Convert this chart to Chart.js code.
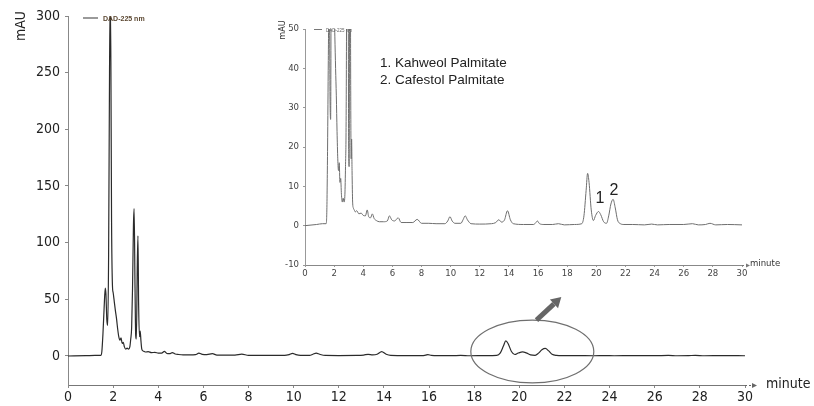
<!DOCTYPE html>
<html>
<head>
<meta charset="utf-8">
<script src="https://cdn.jsdelivr.net/npm/chart.js@4.4.1/dist/chart.umd.min.js"></script>
<style>
  body { margin: 0; background: #fff; }
  #wrap { position: relative; width: 814px; height: 406px; overflow: hidden; }
  canvas { position: absolute; }
  .lbl { position: absolute; white-space: nowrap; transform: translate(0, -50%); line-height: 1; }
  .mid { transform: translate(-50%, -50%); }
  .rot { transform: translate(-50%, -50%) rotate(-90deg); }
</style>
</head>
<body>
<div id="wrap">
  <canvas id="mainChart" width="814" height="406" style="left:0;top:0"></canvas>
  <canvas id="insetChart" width="545" height="275" style="left:250px;top:10px"></canvas>

  <div class="lbl rot" style="left:20px;top:26px;font:14px 'DejaVu Sans Condensed';color:#222">mAU</div>
  <div class="lbl" style="left:766px;top:383px;font:14px 'DejaVu Sans Condensed';color:#222">minute</div>
  <div style="position:absolute;left:83px;top:17px;width:15px;height:2px;background:#9a9a9a"></div>
  <div class="lbl" style="left:103px;top:18px;font:bold 7px 'Liberation Sans';color:#5a4630">DAD-225 nm</div>

  <div class="lbl rot" style="left:282px;top:30px;font:9px 'DejaVu Sans Condensed';color:#333">mAU</div>
  <div class="lbl" style="left:750px;top:262px;font:9.5px 'DejaVu Sans Condensed';color:#333">minute</div>
  <div style="position:absolute;left:314px;top:29px;width:8px;height:1px;background:#777"></div>
  <div class="lbl" style="left:326px;top:30px;font:4.5px 'Liberation Sans';color:#666">DAD-225 nm</div>

  <div class="lbl" style="left:380px;top:62px;font:13.5px 'Liberation Sans';color:#222">1. Kahweol Palmitate</div>
  <div class="lbl" style="left:380px;top:79px;font:13.5px 'Liberation Sans';color:#222">2. Cafestol Palmitate</div>
  <div class="lbl mid" style="left:600px;top:198px;font:16px 'Liberation Sans';color:#222">1</div>
  <div class="lbl mid" style="left:614px;top:190px;font:16px 'Liberation Sans';color:#222">2</div>
</div>
<script>
// retention time (minute) and absorbance (mAU)
const minutes = [
  0, 0.8, 1.2, 1.45, 1.5, 1.55, 1.6, 1.65, 1.68, 1.72,
  1.76, 1.8, 1.84, 1.87, 1.9, 1.93, 1.97, 2.0, 2.05, 2.1,
  2.15, 2.2, 2.25, 2.3, 2.35, 2.4, 2.45, 2.5, 2.56, 2.62,
  2.68, 2.74, 2.78, 2.82, 2.86, 2.9, 2.93, 2.97, 3.0, 3.03,
  3.07, 3.1, 3.13, 3.17, 3.2, 3.23, 3.27, 3.32, 3.38, 3.45,
  3.55, 3.7, 3.85, 4.0, 4.15, 4.27, 4.38, 4.5, 4.62, 4.75,
  4.9, 5.1, 5.4, 5.65, 5.8, 5.95, 6.15, 6.4, 6.6, 7.0,
  7.4, 7.7, 8.0, 8.5, 9.0, 9.6, 9.8, 9.95, 10.1, 10.3,
  10.7, 10.85, 11.0, 11.15, 11.4, 12.0, 12.8, 13.1, 13.3, 13.5,
  13.7, 13.9, 14.1, 14.3, 15.0, 15.7, 15.85, 15.95, 16.1, 16.4,
  17.0, 17.4, 17.8, 18.5, 19.0, 19.15, 19.3, 19.4, 19.5, 19.65,
  19.8, 19.95, 20.15, 20.3, 20.5, 20.7, 20.85, 21.0, 21.15, 21.3,
  21.45, 21.65, 21.9, 22.5, 23.3, 23.8, 24.2, 25.0, 26.0, 26.6,
  27.0, 27.5, 27.8, 28.2, 29.0, 30
];
const mAU = [
  0, 0.3, 0.5, 0.5, 4, 20, 42, 60, 55, 32,
  27, 90, 250, 315, 260, 120, 62, 56, 48, 40,
  33, 24, 17, 14, 16, 11, 12, 8, 6, 7,
  6, 8, 15, 25, 60, 115, 130, 60, 18, 15,
  80, 106, 45, 17, 22, 14, 6, 4.5, 4, 3.5,
  3.8, 3, 3.2, 2.6, 2.5, 4, 2.2, 2, 3, 1.8,
  1.3, 1, 1, 1.2, 2.5, 1.5, 1.2, 2, 0.8, 0.8,
  0.8, 1.6, 0.6, 0.6, 0.5, 0.5, 1.2, 2.3, 1.2, 0.6,
  0.6, 1.5, 2.5, 1.5, 0.5, 0.4, 0.5, 0.8, 1.5, 0.9,
  1.5, 3.8, 1.5, 0.5, 0.3, 0.3, 0.8, 1.2, 0.5, 0.3,
  0.3, 0.5, 0.2, 0.3, 0.5, 2.5, 9, 13.3, 11, 4,
  1.3, 2.6, 3.6, 2.8, 1, 0.6, 2.5, 5.5, 6.7, 4.5,
  1.5, 0.5, 0.3, 0.3, 0.2, 0.4, 0.2, 0.3, 0.3, 0.5,
  0.2, 0.3, 0.6, 0.2, 0.3, 0.2
];

const mainXTicks = [0, 2, 4, 6, 8, 10, 12, 14, 16, 18, 20, 22, 24, 26, 28, 30];
const mainYTicks = [0, 50, 100, 150, 200, 250, 300];
const insetXTicks = [0, 2, 4, 6, 8, 10, 12, 14, 16, 18, 20, 22, 24, 26, 28, 30];
const insetYTicks = [-10, 0, 10, 20, 30, 40, 50];

const points = minutes.map((t, i) => ({ x: t, y: mAU[i] }));

// ellipse around the palmitate region and the pointer arrow (data coords)
const circleBox = { x0: 17.85, x1: 23.3, y0: -23.8, y1: 31.7 };
const pointer = { x0: 20.76, y0: 31.7, x1: 21.86, y1: 52 };

function axisArrow(ctx, area, len, head, color) {
  ctx.save();
  ctx.strokeStyle = color;
  ctx.fillStyle = color;
  ctx.setLineDash([2, 2]);
  ctx.beginPath();
  ctx.moveTo(area.right, area.bottom + 0.5);
  ctx.lineTo(area.right + len, area.bottom + 0.5);
  ctx.stroke();
  ctx.setLineDash([]);
  ctx.beginPath();
  ctx.moveTo(area.right + len + head, area.bottom + 0.5);
  ctx.lineTo(area.right + len, area.bottom + 0.5 - head / 2);
  ctx.lineTo(area.right + len, area.bottom + 0.5 + head / 2);
  ctx.closePath();
  ctx.fill();
  ctx.restore();
}

const mainDecor = {
  id: 'mainDecor',
  afterDraw(chart) {
    const { ctx, chartArea, scales: { x, y } } = chart;
    axisArrow(ctx, chartArea, 7, 5, '#666');

    ctx.save();
    const cx = x.getPixelForValue((circleBox.x0 + circleBox.x1) / 2);
    const cy = y.getPixelForValue((circleBox.y0 + circleBox.y1) / 2);
    const rx = (x.getPixelForValue(circleBox.x1) - x.getPixelForValue(circleBox.x0)) / 2;
    const ry = (y.getPixelForValue(circleBox.y0) - y.getPixelForValue(circleBox.y1)) / 2;
    ctx.strokeStyle = '#6f6f6f';
    ctx.lineWidth = 1.2;
    ctx.beginPath();
    ctx.ellipse(cx, cy, rx, ry, 0, 0, Math.PI * 2);
    ctx.stroke();

    // thick pointer arrow
    const ax = x.getPixelForValue(pointer.x0), ay = y.getPixelForValue(pointer.y0);
    const bx = x.getPixelForValue(pointer.x1), by = y.getPixelForValue(pointer.y1);
    const ang = Math.atan2(by - ay, bx - ax);
    const hl = 10;
    ctx.strokeStyle = '#666';
    ctx.fillStyle = '#666';
    ctx.lineWidth = 5;
    ctx.beginPath();
    ctx.moveTo(ax, ay);
    ctx.lineTo(bx - hl * Math.cos(ang), by - hl * Math.sin(ang));
    ctx.stroke();
    ctx.beginPath();
    ctx.moveTo(bx, by);
    ctx.lineTo(bx - hl * Math.cos(ang) + 6 * Math.sin(ang), by - hl * Math.sin(ang) - 6 * Math.cos(ang));
    ctx.lineTo(bx - hl * Math.cos(ang) - 6 * Math.sin(ang), by - hl * Math.sin(ang) + 6 * Math.cos(ang));
    ctx.closePath();
    ctx.fill();
    ctx.restore();
  }
};

const insetDecor = {
  id: 'insetDecor',
  afterDraw(chart) {
    axisArrow(chart.ctx, chart.chartArea, 4, 4, '#777');
  }
};

const mainChart = new Chart(document.getElementById('mainChart').getContext('2d'), {
  type: 'line',
  data: {
    datasets: [{
      label: 'DAD-225 nm',
      data: points,
      borderColor: '#2b2b2b',
      borderWidth: 1.2,
      pointRadius: 0,
      cubicInterpolationMode: 'monotone',
      fill: false
    }]
  },
  options: {
    responsive: false,
    animation: false,
    layout: { padding: { left: 0, right: 69, top: 16, bottom: 0 } },
    plugins: { legend: { display: false }, tooltip: { enabled: false } },
    scales: {
      x: {
        type: 'linear',
        min: 0,
        max: 30,
        afterFit: s => { s.height = 21; },
        afterBuildTicks: s => { s.ticks = mainXTicks.map(v => ({ value: v })); },
        ticks: { color: '#222', font: { family: 'DejaVu Sans Condensed', size: 14 }, padding: 1, maxRotation: 0, autoSkip: false },
        grid: { drawOnChartArea: false, tickLength: 3, color: '#888' },
        border: { color: '#777', dash: [2, 2] }
      },
      y: {
        min: -25.6,
        max: 300,
        afterFit: s => { s.width = 68; },
        afterBuildTicks: s => { s.ticks = mainYTicks.map(v => ({ value: v })); },
        ticks: { color: '#222', font: { family: 'DejaVu Sans Condensed', size: 14 }, padding: 5 },
        grid: { drawOnChartArea: false, tickLength: 3, color: '#888' },
        border: { color: '#888' }
      }
    }
  },
  plugins: [mainDecor]
});

const insetChart = new Chart(document.getElementById('insetChart').getContext('2d'), {
  type: 'line',
  data: {
    datasets: [{
      label: 'DAD-225 nm',
      data: points,
      borderColor: '#6e6e6e',
      borderWidth: 1,
      pointRadius: 0,
      cubicInterpolationMode: 'monotone',
      fill: false
    }]
  },
  options: {
    responsive: false,
    animation: false,
    layout: { padding: { left: 0, right: 53, top: 19, bottom: 0 } },
    plugins: { legend: { display: false }, tooltip: { enabled: false } },
    scales: {
      x: {
        type: 'linear',
        min: 0,
        max: 30,
        afterFit: s => { s.height = 20; },
        afterBuildTicks: s => { s.ticks = insetXTicks.map(v => ({ value: v })); },
        ticks: { color: '#444', font: { family: 'DejaVu Sans Condensed', size: 9.5 }, padding: 1, maxRotation: 0, autoSkip: false },
        grid: { drawOnChartArea: false, tickLength: 2, color: '#999' },
        border: { color: '#888', dash: [1, 2] }
      },
      y: {
        min: -10,
        max: 50,
        afterFit: s => { s.width = 55; },
        afterBuildTicks: s => { s.ticks = insetYTicks.map(v => ({ value: v })); },
        ticks: { color: '#444', font: { family: 'DejaVu Sans Condensed', size: 9.5 }, padding: 4 },
        grid: { drawOnChartArea: false, tickLength: 2, color: '#999' },
        border: { color: '#999', dash: [1, 2] }
      }
    }
  },
  plugins: [insetDecor]
});
</script>
</body>
</html>
